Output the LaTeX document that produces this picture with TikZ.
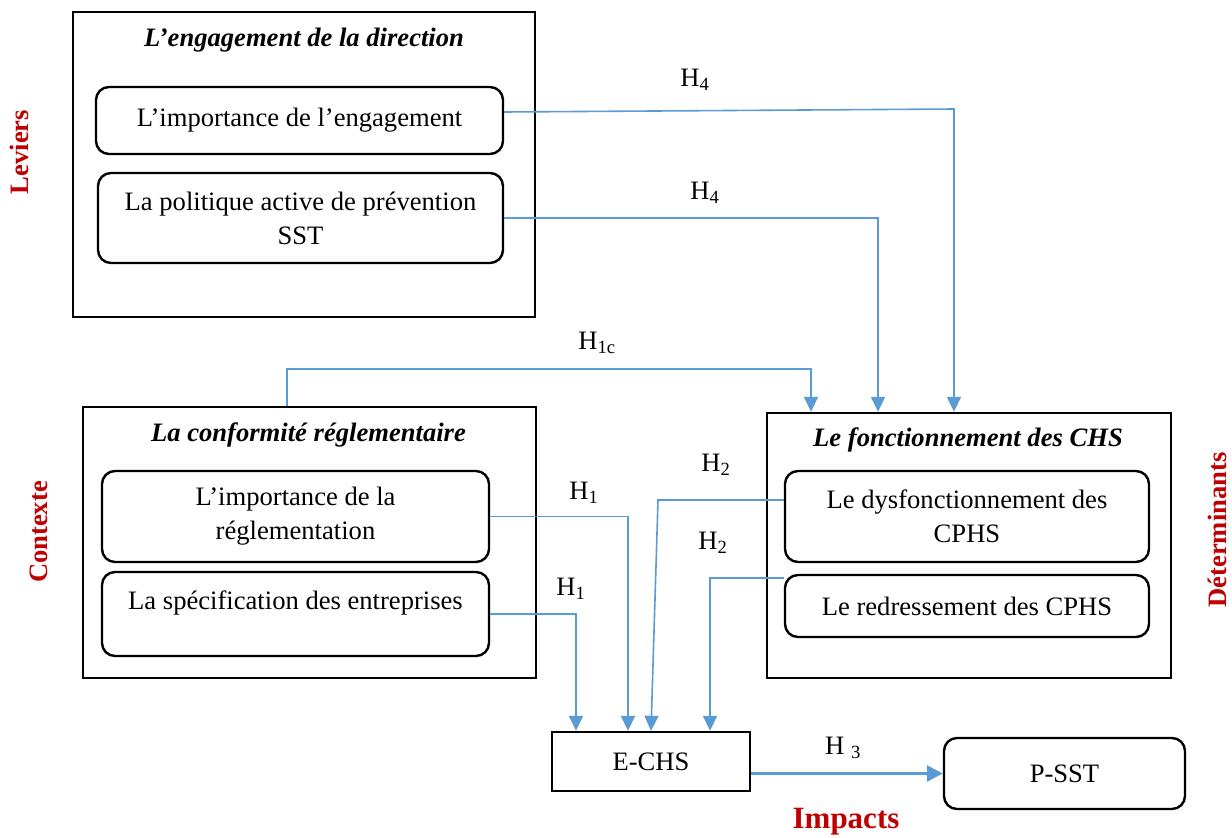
\documentclass[tikz,border=0pt]{standalone}
\usepackage{fontspec}
\setmainfont{Liberation Serif}
\usetikzlibrary{arrows.meta}
\definecolor{linkblue}{HTML}{5B9BD5}
\definecolor{labelred}{HTML}{C00000}
\begin{document}
\begin{tikzpicture}[x=1pt,y=-1pt,
  txt/.style={font=\fontsize{26.6}{34}\selectfont, align=center, inner sep=0pt},
  groupbox/.style={draw=black, line width=2.4pt, inner sep=0pt},
  itembox/.style={txt, draw=black, line width=2.4pt, rounded corners=13pt},
  title/.style={txt, font=\fontsize{26.6}{34}\selectfont\bfseries\itshape},
  side/.style={font=\fontsize{26.6}{34}\selectfont\bfseries, text=labelred, inner sep=0pt},
  link/.style={draw=linkblue, line width=1.6pt, -{Triangle[length=15pt,width=14pt]}},
  hyp/.style={txt}
]
\useasboundingbox (0,0) rectangle (1232,838);

% Group frames
\node[groupbox, minimum width=462pt, minimum height=305pt] (eng) at (304,164.5) {};
\node[groupbox, minimum width=453pt, minimum height=271pt] (conf) at (309.5,542.5) {};
\node[groupbox, minimum width=404pt, minimum height=265pt] (chs) at (969,545.5) {};

% Group titles
\node[title] (tEng) at (304,40) {L’engagement de la direction};
\node[title] (tConf) at (308.5,435) {La conformité réglementaire};
\node[title] (tChs) at (968,440) {Le fonctionnement des CHS};

% Items
\node[itembox, minimum width=407pt, minimum height=67pt] (A) at (299.5,120.5) {L’importance de l’engagement};
\node[itembox, minimum width=405pt, minimum height=90pt] (B) at (300.5,218) {La politique active de prévention\\SST};
\node[itembox, minimum width=387pt, minimum height=91pt] (C) at (295.5,516.5) {L’importance de la\\réglementation};
\node[itembox, minimum width=387pt, minimum height=84pt] (D) at (295.5,614) {};
\node[txt] (tD) at (295.5,603) {La spécification des entreprises};
\node[itembox, minimum width=364pt, minimum height=91pt] (E) at (967,516.5) {Le dysfonctionnement des\\CPHS};
\node[itembox, minimum width=364pt, minimum height=62pt] (F) at (967,606) {Le redressement des CPHS};

% Outcome boxes
\node[groupbox, txt, minimum width=198pt, minimum height=59pt] (echs) at (651,761.5) {E-CHS};
\node[itembox, minimum width=241pt, minimum height=71pt] (psst) at (1064.5,773.5) {P-SST};

% Side labels
\node[side, rotate=90] (lev) at (19,152) {Leviers};
\node[side, rotate=90] (ctx) at (39,532) {Contexte};
\node[side, rotate=90] (det) at (1217,530) {Déterminants};
\node[side, font=\fontsize{31}{36}\selectfont\bfseries] (imp) at (846,822) {Impacts};

% Connectors
\coordinate (b4a) at (954,109);
\draw[link] ([yshift=8.5pt]A.east) -- (b4a) -- (b4a |- chs.north);
\coordinate (b4b) at (878,218);
\draw[link] (B.east) -- (b4b) -- (b4b |- chs.north);
\coordinate (b1c) at (287,369);
\coordinate (e1c) at (811,369);
\draw[link] (b1c |- conf.north) -- (b1c) -- (e1c) -- (e1c |- chs.north);
\coordinate (b1a) at (628,516.5);
\draw[link] (C.east) -- (b1a) -- (b1a |- echs.north);
\coordinate (b1b) at (576,614);
\draw[link] (D.east) -- (b1b) -- (b1b |- echs.north);
\coordinate (b2a) at (658,500);
\coordinate (e2a) at (651,740);
\draw[link] (E.west |- b2a) -- (b2a) -- (e2a |- echs.north);
\coordinate (b2b) at (710,578);
\draw[link] (F.west |- b2b) -- (b2b) -- (b2b |- echs.north);
\draw[link, line width=3pt, -{Triangle[length=16pt,width=16pt]}] (echs.east |- psst.west) -- (psst.west);

% Hypothesis labels
\node[hyp] (h4a) at (695,80) {H\textsubscript{4}};
\node[hyp] (h4b) at (705,193) {H\textsubscript{4}};
\node[hyp] (h1c) at (597,343) {H\textsubscript{1c}};
\node[hyp] (h1a) at (584,493) {H\textsubscript{1}};
\node[hyp] (h1b) at (571,589) {H\textsubscript{1}};
\node[hyp] (h2a) at (716,465) {H\textsubscript{2}};
\node[hyp] (h2b) at (713,543) {H\textsubscript{2}};
\node[hyp] (h3) at (843,748) {H \textsubscript{3}};
\end{tikzpicture}
\end{document}
